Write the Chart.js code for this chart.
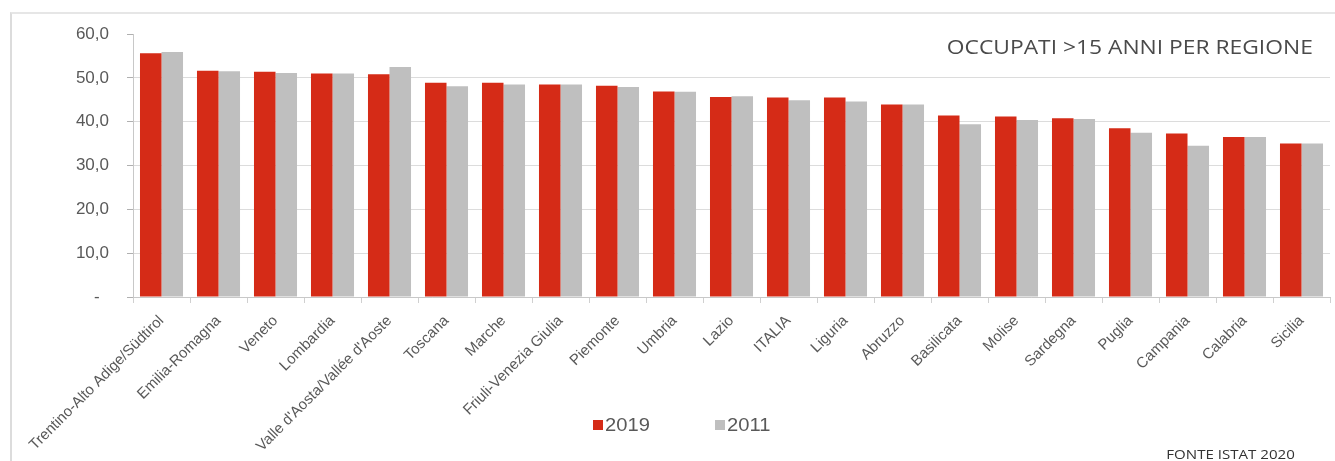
<!DOCTYPE html>
<html>
<head>
<meta charset="utf-8">
<script src="https://cdn.jsdelivr.net/npm/chart.js@4"></script>
<style>
  html, body { margin: 0; padding: 0; background: #ffffff; }
  #wrap { position: relative; width: 1335px; height: 461px; overflow: hidden; }
  #frame { position: absolute; left: 10px; top: 12px; width: 1340px; height: 460px;
           border-left: 2px solid #dcdcdc; border-top: 2px solid #e6e6e6; }
  canvas { position: absolute; left: 0; top: 0; }
  #title { position: absolute; right: 22px; top: 33px; font-family: "Open Sans", sans-serif;
           font-size: 19.5px; color: #4a4a4a; white-space: nowrap;
           transform: scaleX(1.17); transform-origin: right center; }
  #source { position: absolute; right: 40px; top: 445px; font-family: "Open Sans", sans-serif;
            font-size: 13px; color: #333333; white-space: nowrap;
            transform: scaleX(1.16); transform-origin: right center; }
  #legend { position: absolute; left: 0; top: 413px; width: 1335px; height: 24px; }
  .li { position: absolute; top: 0; font-family: "Liberation Sans", Arial, sans-serif; font-size: 18px;
        color: #595959; line-height: 24px; white-space: nowrap; }
  .sw { position: absolute; left: 0; top: 7px; width: 10px; height: 10px; }
  .tx { position: absolute; left: 12px; top: 0; transform: scaleX(1.12); transform-origin: left center; }
</style>
</head>
<body>
<div id="wrap">
  <div id="frame"></div>
  <canvas id="c" width="1335" height="461"></canvas>
  <div id="title">OCCUPATI &gt;15 ANNI PER REGIONE</div>
  <div id="legend"></div>
  <div id="source">FONTE ISTAT 2020</div>
</div>
<script>
const categories = ["Trentino-Alto Adige/Südtirol", "Emilia-Romagna", "Veneto", "Lombardia",
  "Valle d'Aosta/Vallée d'Aoste", "Toscana", "Marche", "Friuli-Venezia Giulia", "Piemonte",
  "Umbria", "Lazio", "ITALIA", "Liguria", "Abruzzo", "Basilicata", "Molise", "Sardegna",
  "Puglia", "Campania", "Calabria", "Sicilia"];
const values2019 = [55.6, 51.6, 51.4, 51.0, 50.8, 48.9, 48.9, 48.5, 48.2, 46.9, 45.6, 45.5, 45.5, 43.9, 41.4, 41.2, 40.8, 38.5, 37.3, 36.5, 35.0];
const values2011 = [55.9, 51.5, 51.1, 51.0, 52.5, 48.1, 48.5, 48.5, 47.9, 46.8, 45.8, 44.9, 44.6, 43.9, 39.4, 40.4, 40.6, 37.5, 34.5, 36.5, 35.0];
const seriesLabels = ["2019", "2011"];
const yTicks = [0, 10, 20, 30, 40, 50, 60];

const RED = '#d52b17';
const GREY = '#bfbfbf';

const chart = new Chart(document.getElementById('c'), {
  type: 'bar',
  data: {
    labels: categories,
    datasets: [
      { label: seriesLabels[0], data: values2019, backgroundColor: RED, borderWidth: 0,
        categoryPercentage: 0.755, barPercentage: 1.0 },
      { label: seriesLabels[1], data: values2011, backgroundColor: GREY, borderWidth: 0,
        categoryPercentage: 0.755, barPercentage: 1.0 }
    ]
  },
  options: {
    responsive: false,
    animation: false,
    devicePixelRatio: 1,
    layout: { padding: { left: 0, top: 34, right: 5, bottom: 0 } },
    plugins: { legend: { display: false }, tooltip: { enabled: false }, title: { display: false } },
    scales: {
      x: {
        grid: { offset: true, drawOnChartArea: false, drawTicks: true, tickLength: 6, color: '#d0d0d0' },
        border: { display: true, color: '#c8c8c8', width: 1 },
        ticks: {
          autoSkip: false, minRotation: 45, maxRotation: 45, padding: 9,
          color: '#595959', font: { family: 'Liberation Sans', size: 15 }
        },
        afterFit(scale) { scale.height = 461 - 297; }
      },
      y: {
        min: 0, max: 60,
        afterBuildTicks(scale) { scale.ticks = yTicks.map(v => ({ value: v })); },
        grid: {
          color: (ctx) => (ctx.tick && ctx.tick.value === 60) ? 'rgba(0,0,0,0)' : '#dcdcdc',
          tickColor: '#b0b0b0', tickLength: 6, drawTicks: true, lineWidth: 1
        },
        border: { display: true, color: '#c8c8c8', width: 1 },
        ticks: {
          padding: 18, color: '#595959', font: { family: 'Liberation Sans', size: 17 },
          callback: (v) => v === 0 ? '-  ' : v.toFixed(1).replace('.', ',')
        },
        afterFit(scale) { scale.width = 133; }
      }
    }
  }
});

// HTML legend built from the datasets
const legend = document.getElementById('legend');
const legendX = [593, 715];
chart.data.datasets.forEach((ds, i) => {
  const item = document.createElement('div');
  item.className = 'li';
  item.style.left = legendX[i] + 'px';
  const sw = document.createElement('span');
  sw.className = 'sw';
  sw.style.background = ds.backgroundColor;
  const tx = document.createElement('span');
  tx.className = 'tx';
  tx.textContent = ds.label;
  item.appendChild(sw);
  item.appendChild(tx);
  legend.appendChild(item);
});
</script>
</body>
</html>
